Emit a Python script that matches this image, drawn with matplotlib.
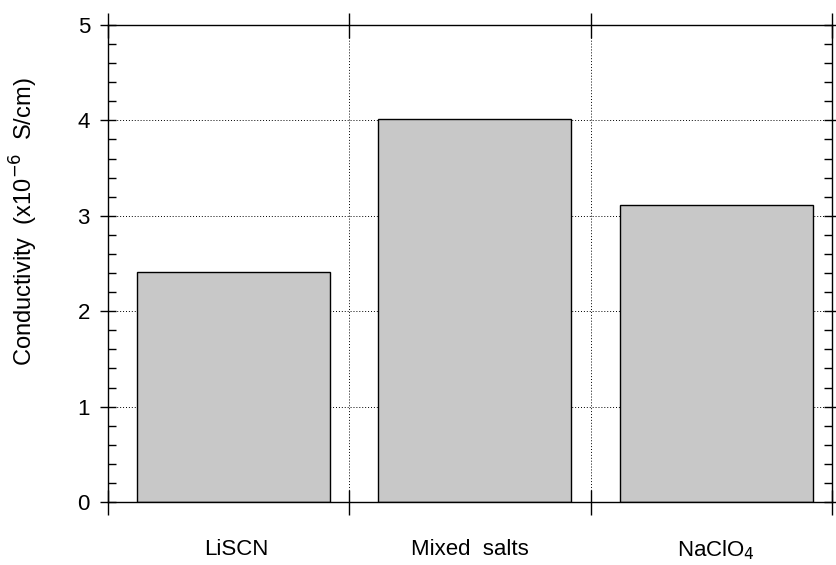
import numpy as np
import matplotlib.pyplot as plt
from matplotlib.ticker import MultipleLocator

plt.rcParams['font.family'] = ['Liberation Sans', 'DejaVu Sans']

# ── Data ──────────────────────────────────────────────────────────────────────
salts        = ["LiSCN", "Mixed  salts", "NaClO$_4$"]
conductivity = [2.41, 4.01, 3.11]   # x1e-6 S/cm

# ── Figure ────────────────────────────────────────────────────────────────────
fig = plt.figure(figsize=(8.37, 5.65), dpi=100)
ax = fig.add_axes([108/837, 1 - 502/565, (832 - 108)/837, (502 - 25)/565])

x = np.arange(len(salts)) + 0.52
ax.bar(x, conductivity, width=0.8, color="#c8c8c8", edgecolor="black",
       linewidth=1.0, zorder=2)

ax.set_xlim(0, 3)
ax.set_ylim(0, 5)

# category boundaries carry the ticks and the vertical grid
ax.set_xticks([0, 1, 2, 3])
ax.set_xticklabels([])
ax.yaxis.set_major_locator(MultipleLocator(1))
ax.yaxis.set_minor_locator(MultipleLocator(0.2))

ax.grid(True, which="major", ls=(0, (1, 2)), color="black", lw=0.7, zorder=1)

ax.tick_params(axis="y", which="major", direction="inout", length=12, width=1.0,
               labelsize=16, right=True, pad=7)
ax.tick_params(axis="y", which="minor", direction="in", length=6, width=1.0,
               right=True)
ax.tick_params(axis="x", which="major", direction="inout", length=18, width=1.0,
               top=True)

for s in ax.spines.values():
    s.set_linewidth(1.0)

label_x = [0.53, 1.5, 2.52]
for xi, name in zip(label_x, salts):
    ax.text(xi, -0.50, name, ha="center", va="center", fontsize=16)

ax.set_ylabel("Conductivity  (x10$^{-6}$  S/cm)", fontsize=17)
ax.yaxis.set_label_coords(-0.094, 0.587)

fig.savefig("out.png", dpi=100)
